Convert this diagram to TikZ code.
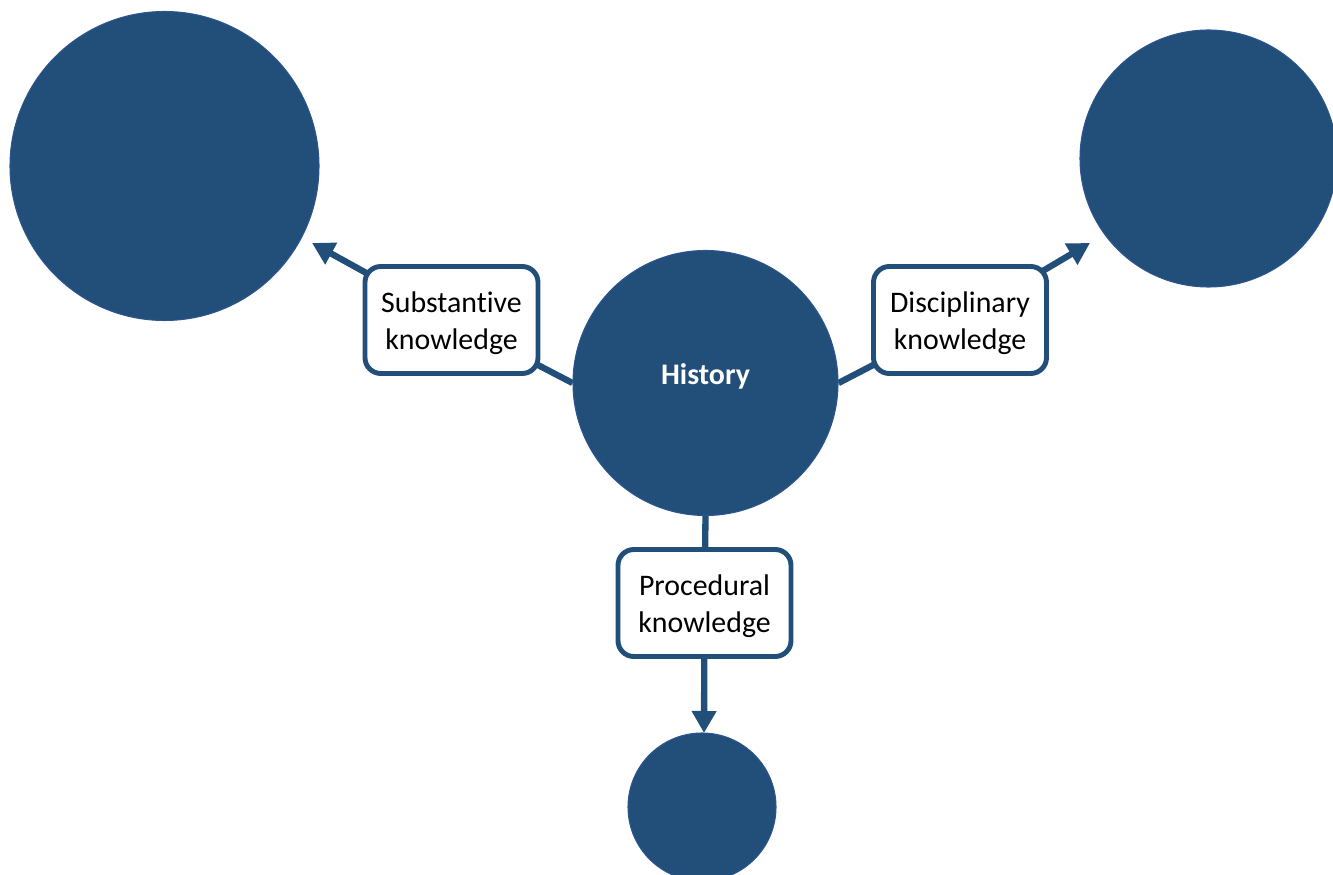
\documentclass[tikz,border=0pt]{standalone}
\usepackage{fontspec}
\setmainfont{Carlito}[Ligatures=NoCommon]
\usepackage{tikz}
\usetikzlibrary{positioning,arrows.meta,backgrounds}
\definecolor{navy700}{HTML}{214F79}
\definecolor{navy500}{HTML}{2E5590}
\tikzset{
  hub/.style   ={circle, fill=navy700, draw=navy500, line width=0.6pt,
                 inner sep=0pt, text=white, font=\fontsize{17}{20}\selectfont\bfseries},
  strand/.style={draw=navy700, line width=2.8pt, fill=white,
                 rounded corners=9pt, align=center, inner sep=0pt,
                 minimum width=3.46cm, minimum height=2.14cm,
                 font=\fontsize{17}{21}\selectfont},
  link/.style  ={draw=navy700, line width=3.6pt},
  arr/.style   ={link, -{Triangle[length=0.44cm, width=0.47cm]}}
}
\begin{document}
\begin{tikzpicture}
\useasboundingbox (0,0) rectangle (26.66,-17.50);
\node[hub, minimum size=5.30cm] (hist) at (14.11,-7.66) {\raisebox{10pt}{History}};
\node[hub, minimum size=6.18cm] (subc) at (3.29,-3.32)  {};
\node[hub, minimum size=5.14cm] (disc) at (24.17,-3.17) {};
\node[hub, minimum size=2.96cm] (proc) at (14.04,-16.14) {};

\coordinate (tipS) at (6.24,-4.86);
\coordinate (tipD) at (21.80,-4.86);
\coordinate (tipP) at (14.08,-14.66);

\node[strand] (subst) at (9.03,-6.40)  {\\[-6pt]Substantive\\knowledge};
\node[strand] (disci) at (19.20,-6.40) {\\[-6pt]Disciplinary\\knowledge};
\node[strand] (proce) at (14.09,-12.06) {\\[-6pt]Procedural\\knowledge};

% connectors sit under the boxes, so each one is two straight pieces
\begin{scope}[on background layer]
\draw[link] (hist.west)  -- (subst.center);
\draw[arr]  (subst.center) -- (tipS);
\draw[link] (hist.east)  -- (disci.center);
\draw[arr]  (disci.center) -- (tipD);
\draw[link] (hist.south) -- (proce.center);
\draw[arr]  (proce.center) -- (tipP);
\end{scope}
\end{tikzpicture}
\end{document}
